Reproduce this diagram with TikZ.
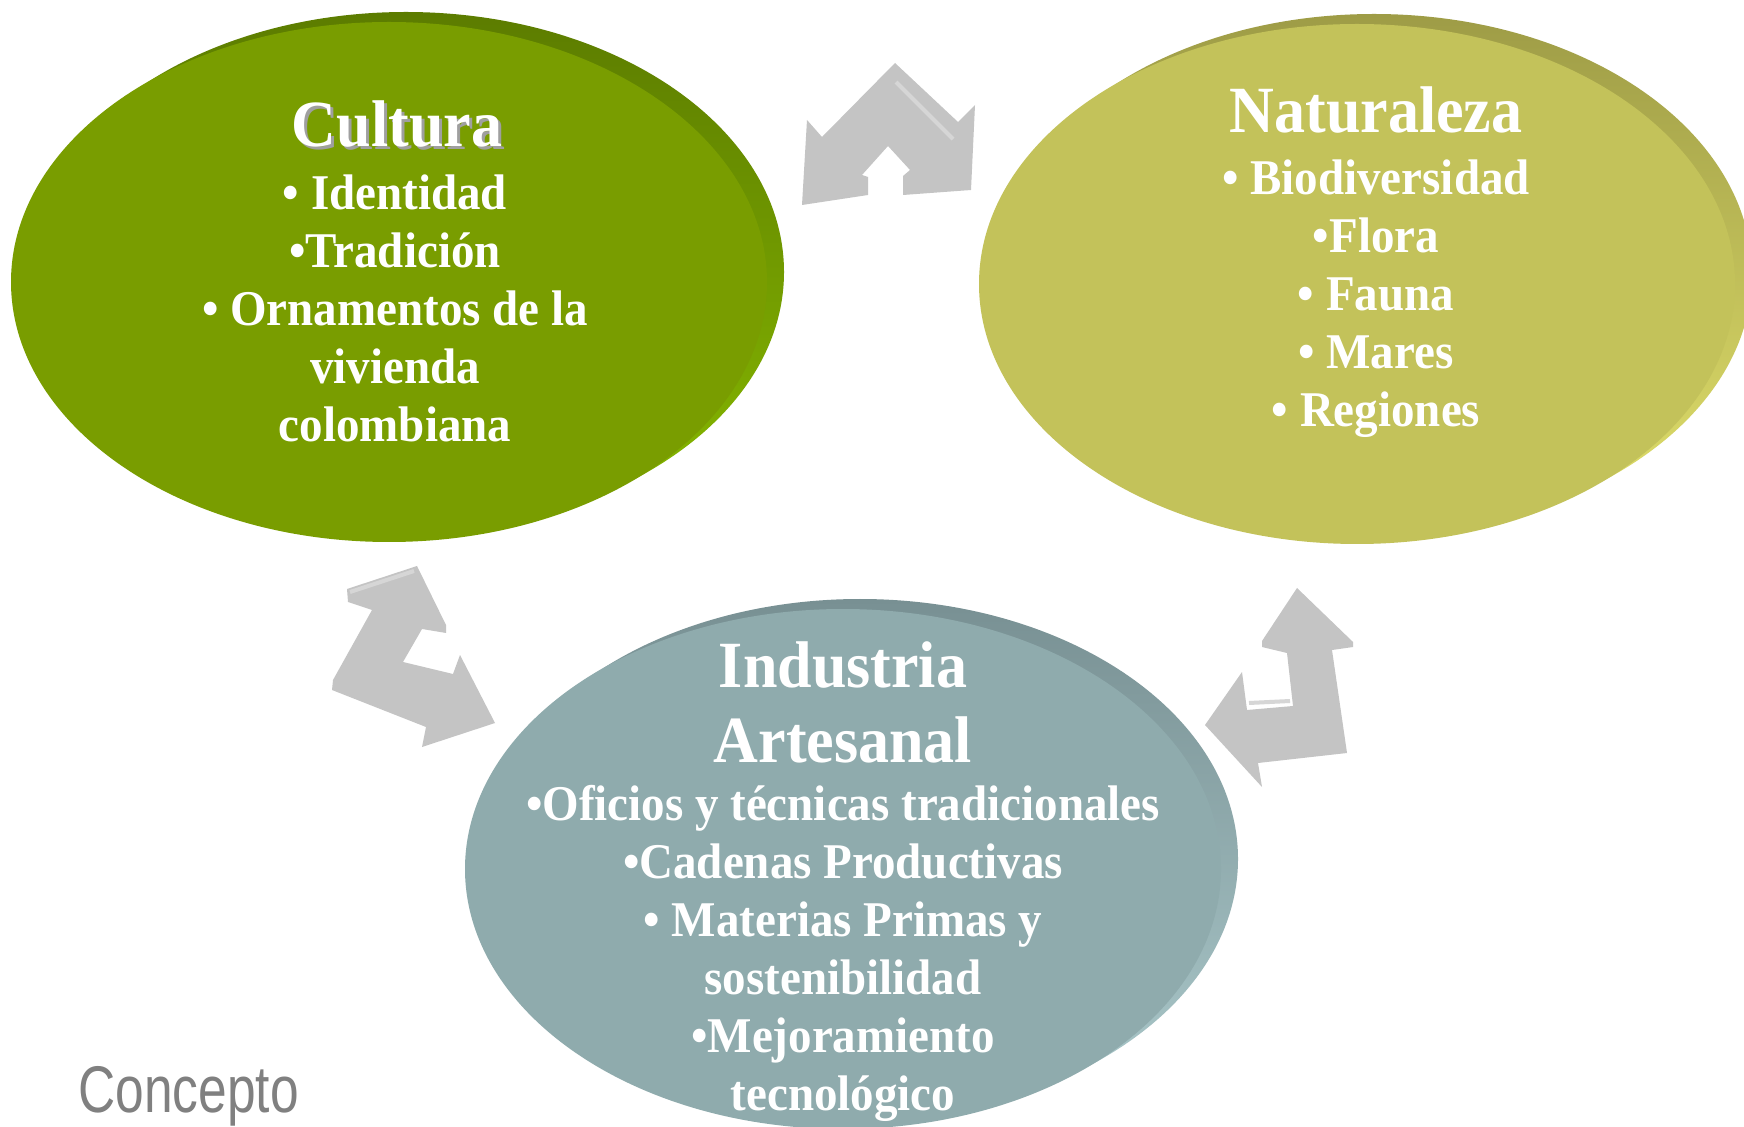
\documentclass[tikz,border=0pt]{standalone}
\usepackage{fontspec}
\newfontfamily\discfont[FakeStretch=0.94]{Liberation Serif}
\newfontfamily\notefont[FakeStretch=0.78]{Liberation Sans}
\definecolor{cultface}{RGB}{121, 157, 0}
\definecolor{cultdark}{RGB}{92, 124, 0}
\definecolor{cultlight}{RGB}{136, 186, 0}
\definecolor{natface}{RGB}{195, 194, 90}
\definecolor{natdark}{RGB}{158, 156, 70}
\definecolor{natlight}{RGB}{226, 225, 108}
\definecolor{indface}{RGB}{143, 171, 173}
\definecolor{inddark}{RGB}{120, 144, 147}
\definecolor{indlight}{RGB}{172, 202, 204}
\definecolor{arrowgray}{RGB}{196, 196, 196}
\definecolor{arrowlight}{RGB}{214, 214, 214}
\definecolor{notegray}{RGB}{128, 128, 128}
\usetikzlibrary{shapes.geometric}

\begin{document}
\begin{tikzpicture}[x=0.5pt, y=-0.5pt,
  disc/.style={ellipse, inner sep=0pt, minimum width=378pt, minimum height=260pt},
  rim/.style={disc, shading angle=45},
  headtxt/.style={text=white, inner sep=0pt, align=center, font=\discfont\bfseries\fontsize{33}{37.5}\selectfont},
  listtxt/.style={text=white, inner sep=0pt, align=center, font=\discfont\bfseries\fontsize{25}{29}\selectfont},
  bentarrow/.style={fill=arrowgray},
  bevel/.style={draw=arrowlight, line width=2pt}]
  \useasboundingbox (0,0) rectangle (1744,1127);
  \clip (0,0) rectangle (1744,1127);
  \fill[white] (0,0) rectangle (1744,1127);

  % the three discs
  \node[rim, top color=cultdark, bottom color=cultlight] (cultrim) at (406,272) {};
  \node[disc, fill=cultface] (cult) at (389,282) {};
  \node[rim, top color=natdark, bottom color=natlight] (natrim) at (1374,274) {};
  \node[disc, fill=natface] (nat) at (1357,284) {};
  \node[rim, top color=inddark, bottom color=indlight] (indrim) at (860,859) {};
  \node[disc, fill=indface] (ind) at (843,869) {};

  % bent arrows between the discs
  \fill[bentarrow] (895,63) -- (958,122) -- (975,105) -- (971,190) -- (903,195) -- (903,176)
    -- (910,170) -- (888,146) -- (862,175) -- (868,177) -- (868,195) -- (802,205)
    -- (807,120) -- (822,137) -- cycle;
  \draw[bevel] (896,82) -- (953,139);
  \fill[bentarrow] (417,566) -- (446,625) -- (446,633) -- (422,629) -- (403,662) -- (453,674)
    -- (460,655) -- (495,723) -- (422,747) -- (426,727) -- (332,690) -- (333,680)
    -- (372,610) -- (348,602) -- (347,589) -- cycle;
  \draw[bevel] (350,592) -- (414,571);
  \fill[bentarrow] (1297,588) -- (1353,642) -- (1353,647) -- (1332,650) -- (1347,753) -- (1258,763)
    -- (1262,787) -- (1205,725) -- (1242,672) -- (1247,710) -- (1293,706) -- (1287,653)
    -- (1262,647) -- (1262,641) -- cycle;
  \draw[bevel] (1249,703) -- (1290,701);

  % texts
  \node[headtxt, text=gray!75, anchor=base] (cultshadow) at (400,150) {Cultura};
  \node[headtxt, anchor=base] (culthead) at (397,147) {Cultura};
  \node[listtxt, anchor=north] (cultlist) at (395,174) {• Identidad\\•Tradición\\• Ornamentos de la\\vivienda\\colombiana};

  \node[headtxt, anchor=base] (nathead) at (1376,133) {Naturaleza};
  \node[listtxt, anchor=north] (natlist) at (1376,159) {• Biodiversidad\\•Flora\\• Fauna\\• Mares\\• Regiones};

  \node[headtxt, anchor=north] (indhead) at (843,641) {Industria\\Artesanal};
  \node[listtxt, anchor=north] (indlist) at (843,785) {•Oficios y técnicas tradicionales\\•Cadenas Productivas\\• Materias Primas y\\sostenibilidad\\•Mejoramiento\\tecnológico};

  \node[anchor=base west, inner sep=0pt, text=notegray, font=\notefont\fontsize{33}{33}\selectfont] (concept) at (78,1112) {Concepto};
\end{tikzpicture}
\end{document}
